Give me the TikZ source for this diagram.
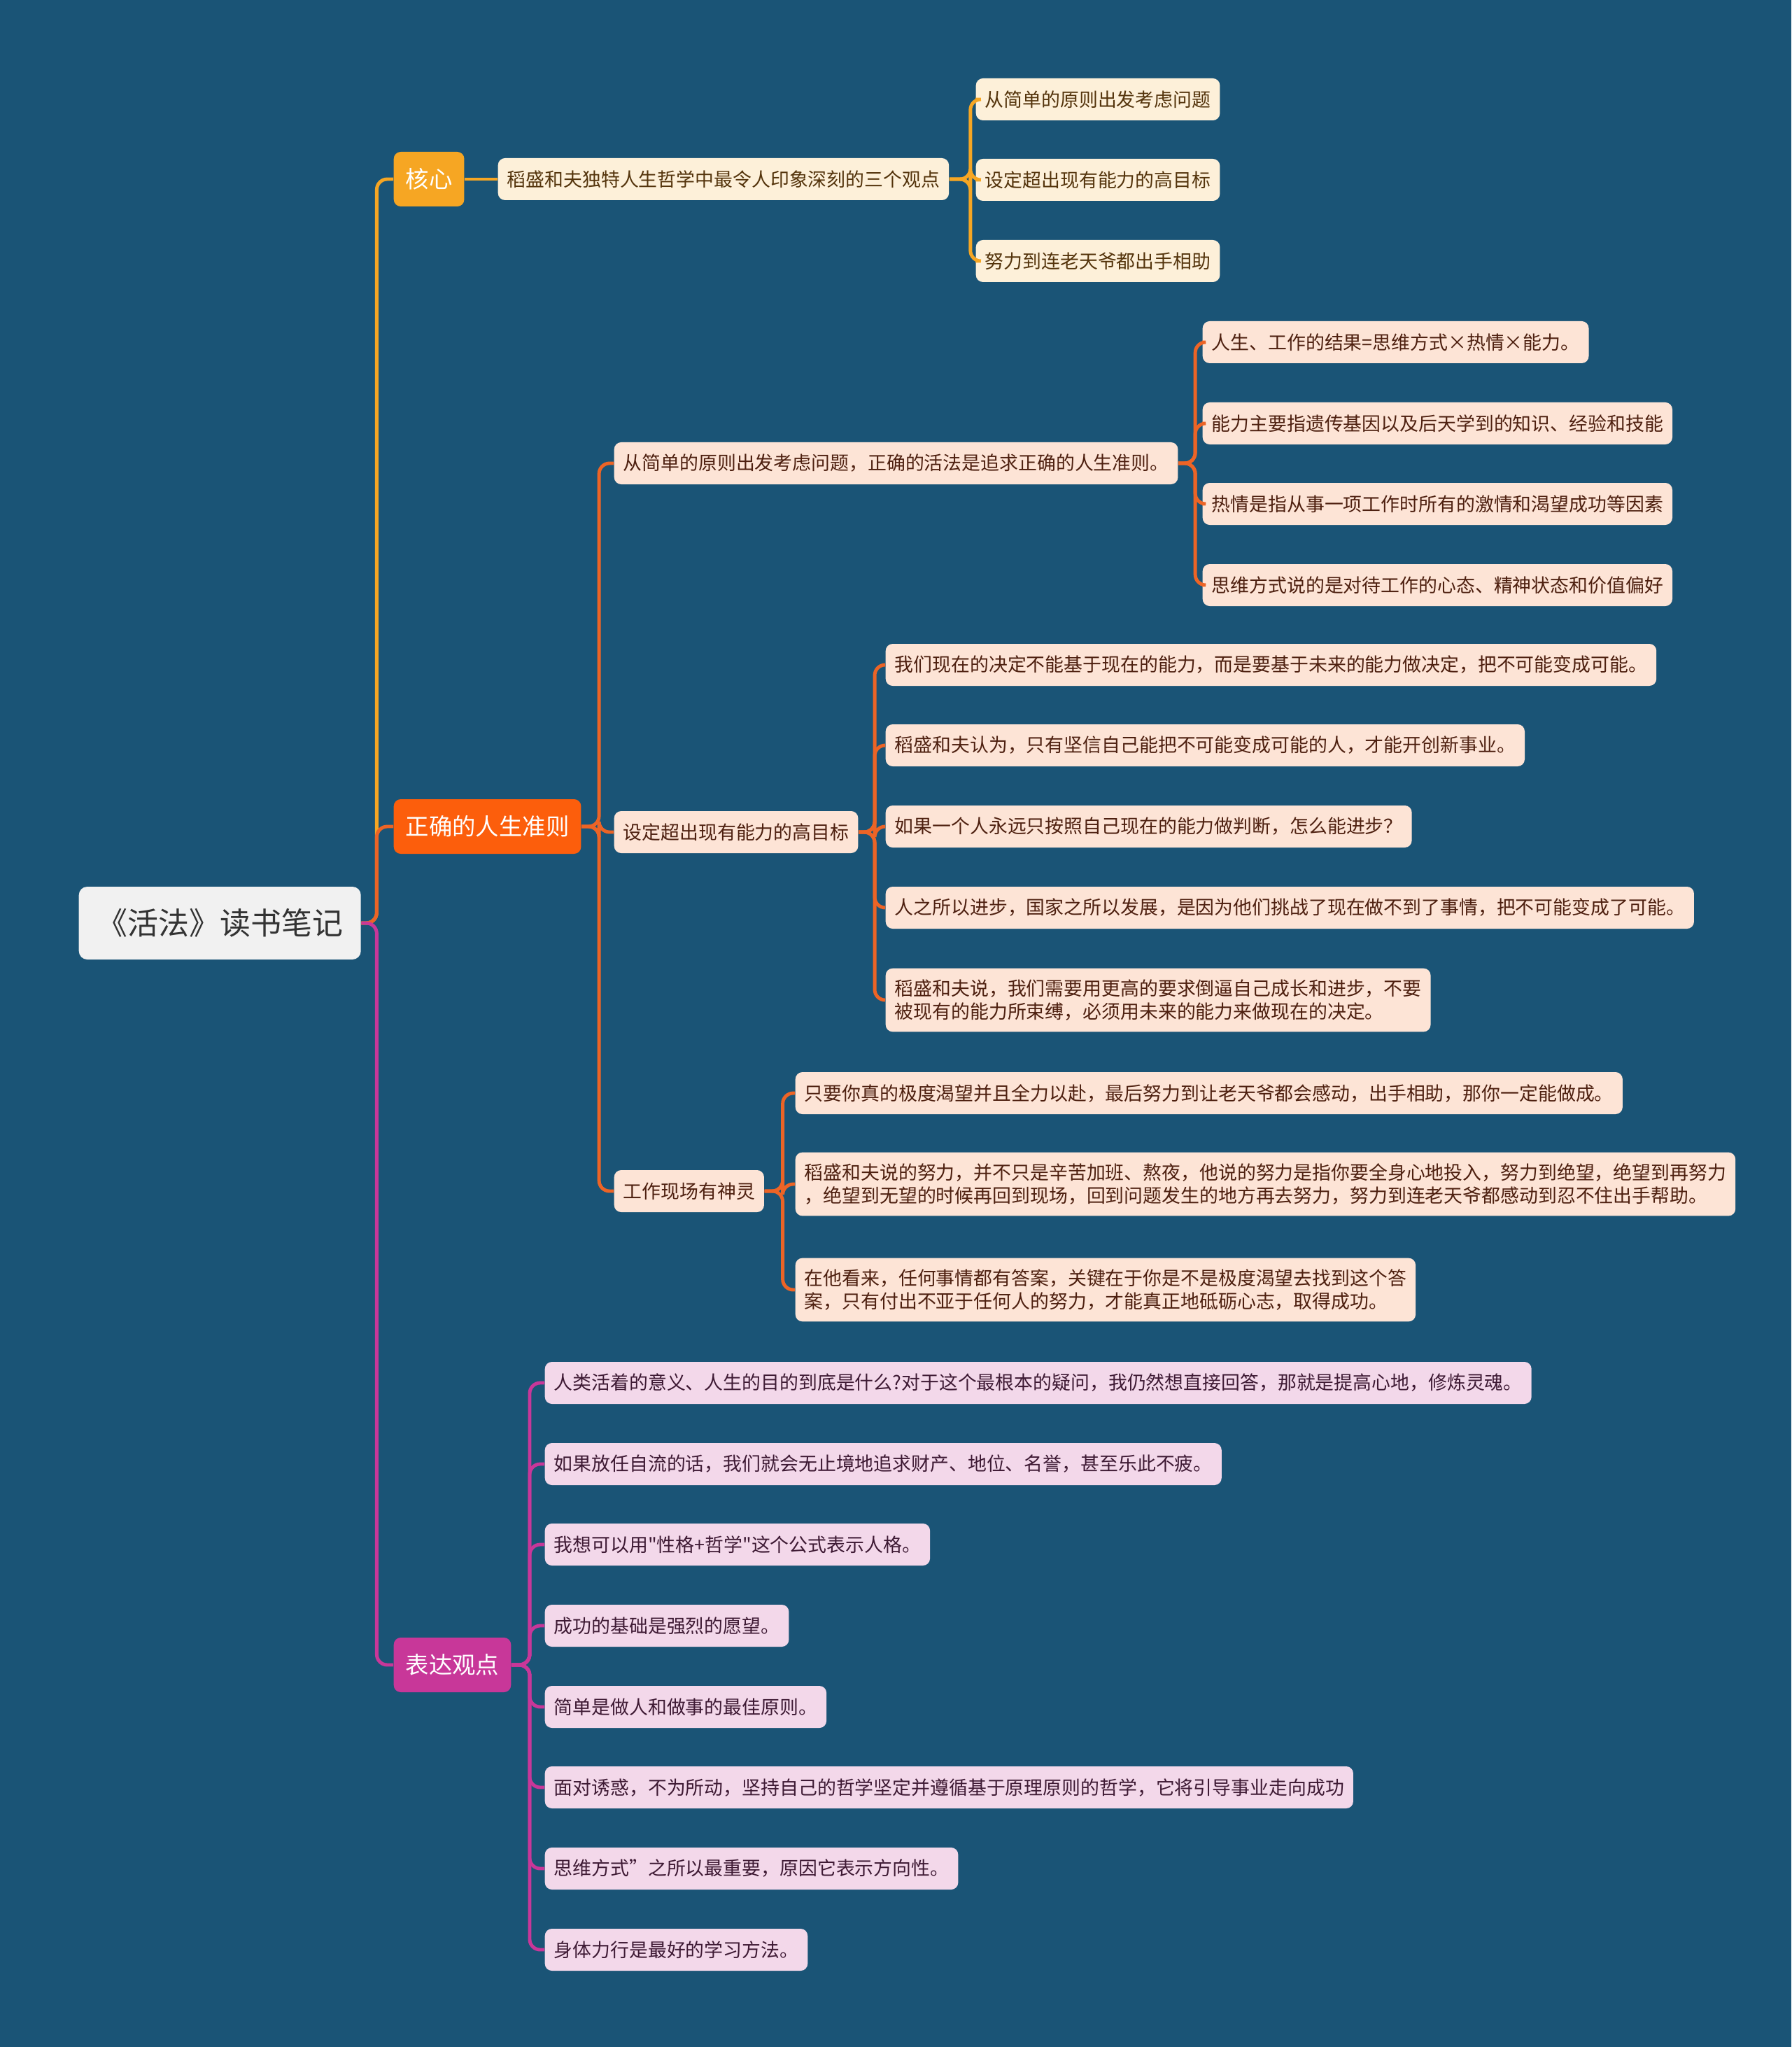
\documentclass[tikz,border=0pt]{standalone}
\usepackage{fontspec}
\usepackage{tikz}
\newfontfamily\cjk{Noto Sans CJK SC}
\definecolor{bgblue}{RGB}{26,84,118}
\definecolor{rootfill}{RGB}{241,241,241}
\definecolor{roottext}{RGB}{51,51,51}
\definecolor{kcol}{RGB}{246,166,35}
\definecolor{kfill}{RGB}{253,240,217}
\definecolor{ktext}{RGB}{84,52,12}
\definecolor{rcol}{RGB}{252,94,12}
\definecolor{rline}{RGB}{236,100,38}
\definecolor{rfill}{RGB}{253,228,214}
\definecolor{rtext}{RGB}{78,32,16}
\definecolor{vcol}{RGB}{200,55,153}
\definecolor{vfill}{RGB}{243,216,234}
\definecolor{vtext}{RGB}{62,26,52}

\begin{document}
\begin{tikzpicture}[
  rootbox/.style={rounded corners=0.12cm, fill=rootfill, text=roottext, anchor=west,
                  font=\cjk\fontsize{12.5}{15}\selectfont, minimum width=4.03cm, minimum height=1.04cm},
  topic/.style={rounded corners=0.1cm, text=white, anchor=west, inner xsep=0.17cm,
                font=\cjk\fontsize{9.5}{11}\selectfont, minimum height=0.78cm},
  leaf/.style={rounded corners=0.1cm, anchor=west, align=left, inner xsep=0.13cm, inner ysep=4.5pt,
               font=\cjk\fontsize{7.65}{9.5}\selectfont, minimum height=0.6cm},
  kleaf/.style={leaf, fill=kfill, text=ktext},
  rleaf/.style={leaf, fill=rfill, text=rtext},
  vleaf/.style={leaf, fill=vfill, text=vtext},
  klink/.style={draw=kcol, line width=1.4pt, rounded corners=0.15cm},
  rlink/.style={draw=rline, line width=1.4pt, rounded corners=0.15cm},
  vlink/.style={draw=vcol, line width=1.4pt, rounded corners=0.15cm},
]
\fill[bgblue] (0,0) rectangle (25.6,-29.25);
\useasboundingbox (0,0) rectangle (25.6,-29.25);

% root and main topics
\node[rootbox] (book) at (1.12,-13.19) {《活法》读书笔记};
\node[topic, fill=kcol] (core) at (5.62,-2.56) {核心};
\node[topic, fill=rcol] (rule) at (5.62,-11.81) {正确的人生准则};
\node[topic, fill=vcol] (view) at (5.62,-23.79) {表达观点};

% core branch
\node[kleaf] (coreall) at (7.11,-2.56) {稻盛和夫独特人生哲学中最令人印象深刻的三个观点};
\node[kleaf] (c1) at (13.94,-1.42) {从简单的原则出发考虑问题};
\node[kleaf] (c2) at (13.94,-2.57) {设定超出现有能力的高目标};
\node[kleaf] (c3) at (13.94,-3.73) {努力到连老天爷都出手相助};

% rule branch
\node[rleaf] (simple) at (8.77,-6.62) {从简单的原则出发考虑问题，正确的活法是追求正确的人生准则。};
\node[rleaf] (s1) at (17.18,-4.89) {人生、工作的结果=思维方式×热情×能力。};
\node[rleaf] (s2) at (17.18,-6.05) {能力主要指遗传基因以及后天学到的知识、经验和技能};
\node[rleaf] (s3) at (17.18,-7.20) {热情是指从事一项工作时所有的激情和渴望成功等因素};
\node[rleaf] (s4) at (17.18,-8.36) {思维方式说的是对待工作的心态、精神状态和价值偏好};

\node[rleaf] (goal) at (8.77,-11.89) {设定超出现有能力的高目标};
\node[rleaf] (g1) at (12.65,-9.50) {我们现在的决定不能基于现在的能力，而是要基于未来的能力做决定，把不可能变成可能。};
\node[rleaf] (g2) at (12.65,-10.65) {稻盛和夫认为，只有坚信自己能把不可能变成可能的人，才能开创新事业。};
\node[rleaf] (g3) at (12.65,-11.81) {如果一个人永远只按照自己现在的能力做判断，怎么能进步？};
\node[rleaf] (g4) at (12.65,-12.97) {人之所以进步，国家之所以发展，是因为他们挑战了现在做不到了事情，把不可能变成了可能。};
\node[rleaf] (g5) at (12.65,-14.29) {稻盛和夫说，我们需要用更高的要求倒逼自己成长和进步，不要\\被现有的能力所束缚，必须用未来的能力来做现在的决定。};

\node[rleaf] (spirit) at (8.77,-17.02) {工作现场有神灵};
\node[rleaf] (p1) at (11.36,-15.62) {只要你真的极度渴望并且全力以赴，最后努力到让老天爷都会感动，出手相助，那你一定能做成。};
\node[rleaf] (p2) at (11.36,-16.92) {稻盛和夫说的努力，并不只是辛苦加班、熬夜，他说的努力是指你要全身心地投入，努力到绝望，绝望到再努力\\，绝望到无望的时候再回到现场，回到问题发生的地方再去努力，努力到连老天爷都感动到忍不住出手帮助。};
\node[rleaf] (p3) at (11.36,-18.43) {在他看来，任何事情都有答案，关键在于你是不是极度渴望去找到这个答\\案，只有付出不亚于任何人的努力，才能真正地砥砺心志，取得成功。};

% view branch
\node[vleaf] (v1) at (7.78,-19.76) {人类活着的意义、人生的目的到底是什么?对于这个最根本的疑问，我仍然想直接回答，那就是提高心地，修炼灵魂。};
\node[vleaf] (v2) at (7.78,-20.92) {如果放任自流的话，我们就会无止境地追求财产、地位、名誉，甚至乐此不疲。};
\node[vleaf] (v3) at (7.78,-22.07) {我想可以用"性格+哲学"这个公式表示人格。};
\node[vleaf] (v4) at (7.78,-23.23) {成功的基础是强烈的愿望。};
\node[vleaf] (v5) at (7.78,-24.39) {简单是做人和做事的最佳原则。};
\node[vleaf] (v6) at (7.78,-25.54) {面对诱惑，不为所动，坚持自己的哲学坚定并遵循基于原理原则的哲学，它将引导事业走向成功};
\node[vleaf] (v7) at (7.78,-26.70) {思维方式”之所以最重要，原因它表示方向性。};
\node[vleaf] (v8) at (7.78,-27.86) {身体力行是最好的学习方法。};

% connectors
\draw[klink] (book.east) -- ++(0.22,0) |- (core.west);
\draw[rlink] (book.east) -- ++(0.22,0) |- (rule.west);
\draw[vlink] (book.east) -- ++(0.22,0) |- (view.west);

\draw[klink] (core.east) -- (coreall.west);
\foreach \n in {c1,c2,c3}
  \draw[klink] (coreall.east) -- ++(0.30,0) |- (\n.west);

\foreach \n in {simple,goal,spirit}
  \draw[rlink] (rule.east) -- ++(0.25,0) |- (\n.west);
\foreach \n in {s1,s2,s3,s4}
  \draw[rlink] (simple.east) -- ++(0.24,0) |- (\n.west);
\foreach \n in {g1,g2,g3,g4,g5}
  \draw[rlink] (goal.east) -- ++(0.23,0) |- (\n.west);
\foreach \n in {p1,p2,p3}
  \draw[rlink] (spirit.east) -- ++(0.26,0) |- (\n.west);

\foreach \n in {v1,v2,v3,v4,v5,v6,v7,v8}
  \draw[vlink] (view.east) -- ++(0.26,0) |- (\n.west);
\end{tikzpicture}
\end{document}
